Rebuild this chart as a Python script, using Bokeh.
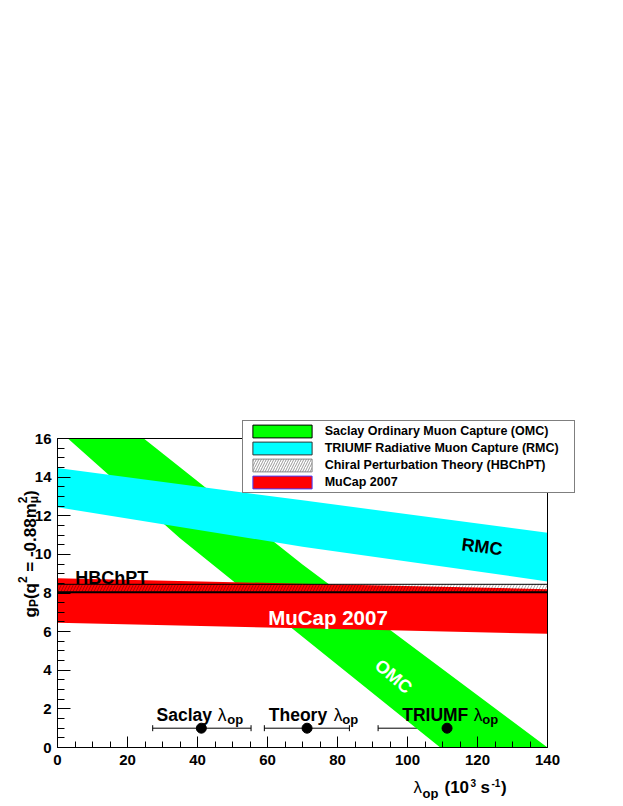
import math
from bokeh.plotting import figure
from bokeh.models import (Range1d, SingleIntervalTicker, Label, Legend, LegendItem,
                          Whisker, TeeHead, ColumnDataSource)
from bokeh.embed import file_html
from bokeh.resources import INLINE

# ---------------- data ----------------
lam_omc = [0, 35, 70, 140]
omc_lo = [16.48, 10.83, 5.73, -4.46]
omc_hi = [19.55, 14.51, 9.47, 0.0]

lam_band = [0, 70, 140]
rmc_lo = [12.44, 10.40, 8.60]
rmc_hi = [14.47, 12.80, 11.12]
mucap_lo = [6.46, 6.17, 5.89]
mucap_hi = [8.77, 8.48, 8.20]
hb_lo = [8.04, 8.04, 8.04]
hb_hi = [8.45, 8.45, 8.45]

err_names = ["Saclay", "Theory", "TRIUMF"]
err_x = [41.1, 71.3, 111.3]
err_lo = [27.2, 59.1, 91.6]
err_hi = [55.3, 83.4, 131.1]
err_y = [1.0, 1.0, 1.0]

legend_labels = ["Saclay Ordinary Muon Capture (OMC)",
                 "TRIUMF Radiative Muon Capture (RMC)",
                 "Chiral Perturbation Theory (HBChPT)",
                 "MuCap 2007"]

x_axis_range = (0, 140)
y_axis_range = (0, 16)

FONT = "Liberation Sans"

# ---------------- layout geometry (pixels) ----------------
W, H = 620, 800
X0PX, X1PX = 57, 547      # plot box left / right
Y0PX, Y1PX = 747, 438     # plot box bottom / top
sx = (X1PX - X0PX) / (x_axis_range[1] - x_axis_range[0])
sy = (Y0PX - Y1PX) / (y_axis_range[1] - y_axis_range[0])

xr = Range1d(x_axis_range[0] - X0PX / sx, x_axis_range[0] + (W - X0PX) / sx)
yr = Range1d(y_axis_range[0] - (H - Y0PX) / sy, y_axis_range[0] + Y0PX / sy)

p = figure(width=W, height=H, x_range=xr, y_range=yr,
           output_backend="svg", toolbar_location=None,
           min_border_left=0, min_border_right=0, min_border_top=0, min_border_bottom=0)
p.background_fill_color = "white"
p.border_fill_color = "white"
p.xgrid.visible = False
p.ygrid.visible = False
p.outline_line_color = None

p.xaxis.ticker = SingleIntervalTicker(interval=20, num_minor_ticks=4)
p.yaxis.ticker = SingleIntervalTicker(interval=2, num_minor_ticks=4)
p.xaxis.fixed_location = y_axis_range[0]
p.yaxis.fixed_location = x_axis_range[0]
p.xaxis.bounds = x_axis_range
p.yaxis.bounds = y_axis_range
for ax in (p.xaxis[0], p.yaxis[0]):
    ax.major_label_text_font = FONT
    ax.major_label_text_font_style = "bold"
    ax.major_label_text_font_size = "15px"
    ax.major_label_text_color = "black"
    ax.axis_line_color = "black"
    ax.major_tick_line_color = "black"
    ax.minor_tick_line_color = "black"
    ax.major_tick_out = 0
    ax.minor_tick_out = 0
p.xaxis.major_tick_in = 11
p.xaxis.minor_tick_in = 6
p.xaxis.major_label_standoff = 7
p.yaxis.major_tick_in = 13
p.yaxis.minor_tick_in = 7
p.yaxis.major_label_standoff = 6

# ---------------- bands ----------------
p.varea(x=lam_omc, y1=omc_lo, y2=omc_hi, fill_color="#00ff00")
p.varea(x=lam_band, y1=rmc_lo, y2=rmc_hi, fill_color="#00ffff")
p.varea(x=lam_band, y1=mucap_lo, y2=mucap_hi, fill_color="#ff0000")
p.varea(x=lam_band, y1=hb_lo, y2=hb_hi, fill_color=None, hatch_pattern="/",
        hatch_color="black", hatch_alpha=0.45, hatch_scale=6, hatch_weight=0.7)
p.line(lam_band, hb_hi, line_color="black", line_width=1)
p.line(lam_band, hb_lo, line_color="black", line_width=2)

# white masks outside the plot box (clip bands), then top and right sides of the box
p.quad(left=[xr.start], right=[xr.end], bottom=[y_axis_range[1]], top=[yr.end],
       fill_color="white", line_color=None)
p.quad(left=[xr.start], right=[xr.end], bottom=[yr.start], top=[y_axis_range[0]],
       fill_color="white", line_color=None)
p.line([x_axis_range[0], x_axis_range[1]], [y_axis_range[1], y_axis_range[1]],
       line_color="black", line_width=1)
p.line([x_axis_range[1], x_axis_range[1]], [y_axis_range[0], y_axis_range[1]],
       line_color="black", line_width=1)

# ---------------- error bars ----------------
src_err = ColumnDataSource(dict(base=err_y, lower=err_lo, upper=err_hi))
p.add_layout(Whisker(source=src_err, base="base", lower="lower", upper="upper",
                     dimension="width", line_color="black", line_width=1,
                     upper_head=TeeHead(size=6, line_color="black", line_width=1),
                     lower_head=TeeHead(size=6, line_color="black", line_width=1)))
p.scatter(err_x, err_y, size=10, color="black")


def lab(x, y, text, size, units="data", xo=0, yo=0, color="black", style="bold",
        angle=0.0, align="left", baseline="alphabetic"):
    p.add_layout(Label(x=x, y=y, x_units=units, y_units=units, x_offset=xo, y_offset=yo,
                       text=text, text_font=FONT, text_font_size=f"{size}px",
                       text_font_style=style, text_color=color, angle=angle,
                       text_align=align, text_baseline=baseline))


# error-bar labels
label_pos = [(28.29, 61.3, 70.7), (60.37, 65.0, 73.4), (98.49, 71.6, 80.0)]
for name, (lx, lo_off, op_off) in zip(err_names, label_pos):
    lab(lx, 1.658, name, 17.5)
    lab(lx, 1.658, "λ", 17.5, xo=lo_off, style="normal")
    lab(lx, 1.658, "op", 13, xo=op_off, yo=-4.3)

# band labels
lab(5.1, 8.8, "HBChPT", 18)
lab(60.2, 6.75, "MuCap 2007", 20.5, color="white")
lab(121.3, 10.39, "RMC", 18, angle=-0.125, align="center", baseline="middle")
lab(96.0, 3.68, "OMC", 18, color="white", angle=-0.70, align="center", baseline="middle")

# y-axis title  g_P(q^2 = -0.88 m_mu^2)   (screen units: from canvas left / bottom)
A = math.pi / 2
bx = 29.5
y0 = H - 617
lab(bx, y0, "g", 17, units="screen", angle=A)
lab(bx + 4, y0 + 10.4, "P", 12, units="screen", angle=A)
lab(bx, y0 + 18.4, "(q", 17, units="screen", angle=A)
lab(bx - 8, y0 + 34.5, "2", 12, units="screen", angle=A)
lab(bx, y0 + 45.8, "= -0.88m", 17, units="screen", angle=A)
lab(bx + 4, y0 + 114.3, "μ", 12, units="screen", angle=A)
lab(bx - 8, y0 + 114.3, "2", 12, units="screen", angle=A)
lab(bx, y0 + 121.6, ")", 17, units="screen", angle=A)

# x-axis title  lambda_op (10^3 s^-1)
ym = H - 787
lab(413, ym, "λ", 17, units="screen", style="normal")
lab(422, ym - 5.7, "op", 13, units="screen")
lab(444, ym, "(10", 17, units="screen")
lab(470, ym + 4.3, "3", 10, units="screen")
lab(480, ym, "s", 17, units="screen")
lab(491, ym + 4.3, "-1", 10, units="screen")
lab(500.5, ym, ")", 17, units="screen")

# ---------------- legend ----------------
nan = [float("nan")]
r1 = p.quad(left=nan, right=nan, top=nan, bottom=nan, fill_color="#00ff00", line_color="black")
r2 = p.quad(left=nan, right=nan, top=nan, bottom=nan, fill_color="#00ffff", line_color="#333333")
r3 = p.quad(left=nan, right=nan, top=nan, bottom=nan, fill_color="white", line_color="#888888",
            hatch_pattern="/", hatch_color="black", hatch_alpha=0.5, hatch_scale=5, hatch_weight=0.8)
r4 = p.quad(left=nan, right=nan, top=nan, bottom=nan, fill_color="#ff0000", line_color="#4040ff")
items = [LegendItem(label=t, renderers=[r]) for t, r in zip(legend_labels, [r1, r2, r3, r4])]
legend = Legend(items=items, location=(241.7, H - 493), orientation="vertical",
                border_line_color="black", border_line_width=1,
                background_fill_color="white", background_fill_alpha=1.0,
                label_text_font=FONT, label_text_font_style="bold",
                label_text_font_size="12.5px", label_text_color="black",
                glyph_width=74, glyph_height=16, label_height=16, label_width=247,
                label_standoff=6, spacing=1, padding=2, margin=0)
p.add_layout(legend)

with open("out.html", "w") as f:
    f.write(file_html(p, INLINE))
